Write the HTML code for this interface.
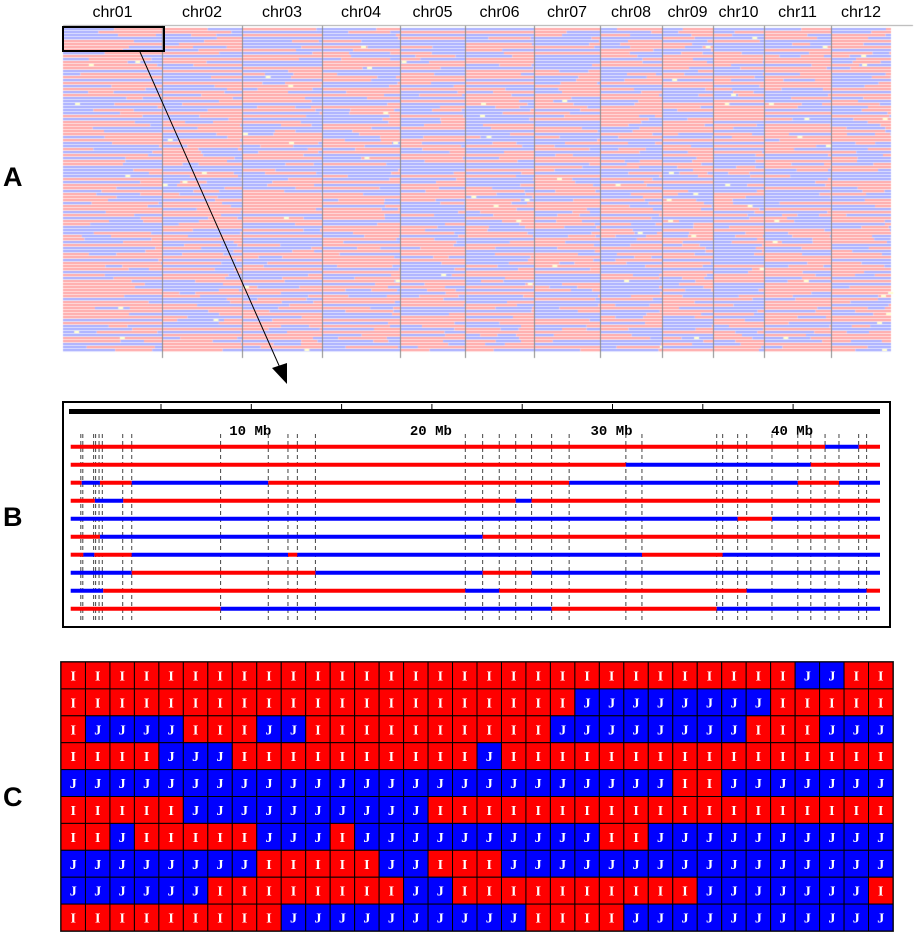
<!DOCTYPE html>
<html><head><meta charset="utf-8">
<style>
body{margin:0;background:#fff;width:915px;height:934px;overflow:hidden;position:relative;font-family:"Liberation Sans",sans-serif}
.panel-label{position:absolute;font:bold 27px "Liberation Sans",sans-serif;color:#000}
</style></head>
<body>
<div class="panel-label" style="left:3px;top:162px">A</div>
<div class="panel-label" style="left:3px;top:502px">B</div>
<div class="panel-label" style="left:3px;top:782px">C</div>
<canvas id="heat" width="915" height="370" style="position:absolute;left:0;top:0"></canvas>
<svg id="main" width="915" height="934" style="position:absolute;left:0;top:0" xmlns="http://www.w3.org/2000/svg"></svg>
<script>
// ---- Panel A data ----
const chrNames=["chr01","chr02","chr03","chr04","chr05","chr06","chr07","chr08","chr09","chr10","chr11","chr12"];
const chrBounds=[63,162,242,322,400,465,534,600,662,713,764,831,891];
// ---- Panel B data (Mb) ----
const markersMb=[0.56,0.67,1.27,1.38,1.57,1.75,2.88,3.38,8.30,10.94,12.03,12.55,13.55,21.85,22.81,23.73,24.64,25.52,26.63,27.60,30.74,31.63,35.77,36.10,36.93,37.43,38.83,40.26,40.98,41.77,42.54,43.63,44.07];
const bStart=["I","I","I","I","J","I","I","J","J","I"];
const bBreaks=[
 [41.77,43.63],
 [30.74,40.98],
 [0.61,1.62,3.38,10.94,27.60,40.26,42.54],
 [1.34,2.91,24.64,25.52],
 [36.93,38.83],
 [1.62,22.81],
 [0.70,1.31,3.38,12.03,12.55,31.63,36.10],
 [3.38,13.55,22.81,25.52],
 [1.80,21.85,23.73,37.43,44.07],
 [8.30,26.63,35.77]
];
const axisTicksMb=[5,10,15,20,25,30,35,40];
const axisLabelsMb=[10,20,30,40];
// ---- Panel C data ----
const cRows=[
 "IIIIIIIIIIIIIIIIIIIIIIIIIIIIIIJJII",
 "IIIIIIIIIIIIIIIIIIIIIJJJJJJJJIIIII",
 "IJJJJIIIJJIIIIIIIIIIJJJJJJJJIIIJJJ",
 "IIIIJJJIIIIIIIIIIJIIIIIIIIIIIIIIII",
 "JJJJJJJJJJJJJJJJJJJJJJJJJIIJJJJJJJ",
 "IIIIIJJJJJJJJJJIIIIIIIIIIIIIIIIIII",
 "IIJIIIIIJJJIJJJJJJJJJJIIJJJJJJJJJJ",
 "JJJJJJJJIIIIIJJIIIJJJJJJJJJJJJJJJJ",
 "JJJJJJIIIIIIIIJJIIIIIIIIIIJJJJJJJI",
 "IIIIIIIIIJJJJJJJJJJIIIIJJJJJJJJJJJ"
];

const NS="http://www.w3.org/2000/svg";
const svg=document.getElementById('main');
function mk(tag,attrs,parent){const e=document.createElementNS(NS,tag);for(const k in attrs)e.setAttribute(k,attrs[k]);(parent||svg).appendChild(e);return e;}

// ---- Panel A drawing (texture) ----
const ctx=document.getElementById('heat').getContext('2d');
let seed=12345;function rnd(){seed=(seed*1103515245+12345)&0x7fffffff;return seed/0x7fffffff;}
const aTop=28,aRowH=3,aRows=108;
for(let c=0;c<12;c++){
  const x0=chrBounds[c],x1=chrBounds[c+1];
  for(let r=0;r<aRows;r++){
    let x=x0;let st=rnd()<0.5;
    while(x<x1){
      const len=15+rnd()*(x1-x0)*1.2;
      const xe=Math.min(x1,x+len);
      ctx.fillStyle=st?"#ffaaaa":"#aab0ff";
      ctx.fillRect(x,aTop+r*aRowH,xe-x,2);
      ctx.fillStyle=st?"#ffe4e4":"#e4e6ff";
      ctx.fillRect(x,aTop+r*aRowH+2,xe-x,1);
      if(rnd()<0.03){ctx.fillStyle="#ffffd0";ctx.fillRect(x+rnd()*Math.max(0,xe-x-4),aTop+r*aRowH,5,2);}
      x=xe;st=!st;
    }
  }
}
ctx.fillStyle="#888";
for(let c=1;c<12;c++){ctx.fillRect(chrBounds[c],26,1,332);}
ctx.fillStyle="#aaa";ctx.fillRect(63,25,850,1);

const gA=mk('g',{});


chrNames.forEach((n,i)=>{
  const t=mk('text',{x:(chrBounds[i]+chrBounds[i+1])/2,y:17,'text-anchor':'middle','font-size':'16','font-family':'Liberation Sans, sans-serif'},gA);
  t.textContent=n;
  
  
});
const zb=mk('rect',{x:63,y:27,width:101,height:24,fill:'none',stroke:'#000','stroke-width':2});


const arr=mk('line',{x1:140,y1:52,x2:281,y2:370,stroke:'#000','stroke-width':1});


const ah=mk('polygon',{points:'287,384 272,368 287,363',fill:'#000'});



// ---- Panel B ----
const bx0=70.7,bPx=18.06,bxEnd=880;
function xB(mb){return bx0+mb*bPx;}
const gB=mk('g',{});


const box=mk('rect',{x:63,y:402,width:827,height:225,fill:'#fff',stroke:'#000','stroke-width':2},gB);


const ax=mk('rect',{x:69,y:409,width:811,height:5,fill:'#000'},gB);


axisTicksMb.forEach(m=>{const tk=mk('line',{x1:xB(m),x2:xB(m),y1:404,y2:410,stroke:'#000','stroke-width':1},gB);
  
  });
axisLabelsMb.forEach(m=>{const t=mk('text',{x:xB(m)-1,y:435,'text-anchor':'middle','font-size':'14','font-weight':'bold','font-family':'Liberation Mono, monospace'},gB);t.textContent=m+' Mb';
  
  });
markersMb.forEach(m=>{const l=mk('line',{x1:xB(m),x2:xB(m),y1:434,y2:620,stroke:'#444','stroke-width':1,'stroke-dasharray':'4,3'},gB);
  
  });
const rowY0=446.7,rowStep=18;
bStart.forEach((s,r)=>{
  const pts=[0].concat(bBreaks[r]);const y=rowY0+r*rowStep;let st=s;
  for(let i=0;i<pts.length;i++){
    const xa=xB(pts[i]),xe=i+1<pts.length?xB(pts[i+1]):bxEnd;
    const seg=mk('line',{x1:Math.max(xa,bx0),x2:xe,y1:y,y2:y,stroke:st==="I"?"#ff0000":"#0000ff",'stroke-width':4},gB);
    
    
    st=st==="I"?"J":"I";
  }
});

// ---- Panel C ----
const cx0=61,cy0=662,cw=(893-61)/34,ch=(931-662)/10;
const gC=mk('g',{});


mk('rect',{x:cx0-1,y:cy0-1,width:834,height:271,fill:'#555'},gC);
cRows.forEach((row,r)=>{
  for(let c=0;c<row.length;c++){
    const v=row[c];
    const cell=mk('rect',{x:cx0+c*cw,y:cy0+r*ch,width:cw,height:ch,fill:v==="I"?"#ff0000":"#0000ff",stroke:'#000','stroke-width':1},gC);
    
    
    const t=mk('text',{x:cx0+c*cw+cw/2,y:cy0+r*ch+ch/2+5,'text-anchor':'middle',fill:'#fff','font-size':'14','font-weight':'bold','font-family':'Liberation Serif, serif'},gC);
    t.textContent=v;
    
    
  }
});
</script>
</body></html>
